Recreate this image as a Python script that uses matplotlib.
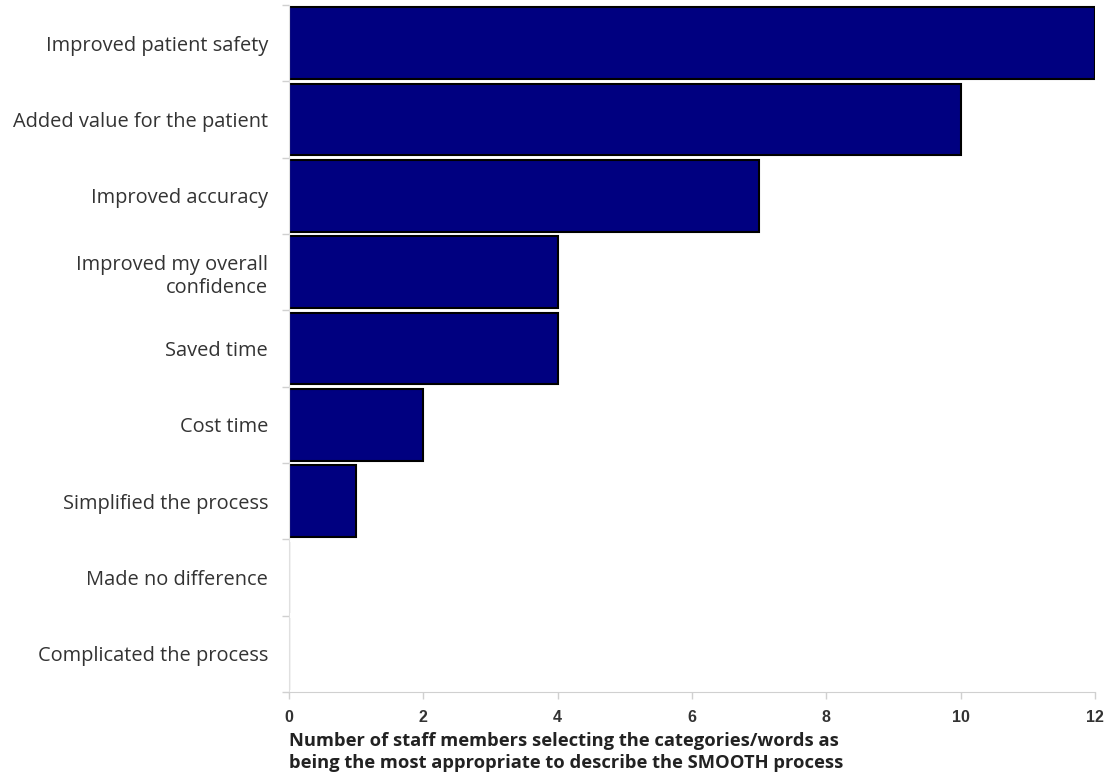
import matplotlib
matplotlib.use("Agg")
import numpy as np
import matplotlib.pyplot as plt

categories = ['Improved patient safety', 'Added value for the patient', 'Improved accuracy',
              'Improved my overall\nconfidence', 'Saved time', 'Cost time',
              'Simplified the process', 'Made no difference', 'Complicated the process']
counts = [12, 10, 7, 4, 4, 2, 1, 0, 0]
xticks = [0, 2, 4, 6, 8, 10, 12]

plt.rcParams['font.family'] = ['Open Sans', 'DejaVu Sans']

fig = plt.figure(figsize=(11.04, 7.83), dpi=100)
ax = fig.add_axes([0.2618, 0.1162, 0.9918 - 0.2618, 0.9936 - 0.1162])

y = np.arange(len(categories))
ax.barh(y, counts, height=0.94, color='#000080', edgecolor='black', linewidth=1.5)

ax.set_ylim(len(categories) - 0.5, -0.5)
ax.set_xlim(0, 12)

ax.set_yticks(y)
ax.set_yticklabels(categories, fontsize=14.4, color='#333333', ha='right', linespacing=1.25)
ax.tick_params(axis='y', length=0, pad=15)
ax.set_yticks(np.arange(-0.5, len(categories) - 0.4, 1), minor=True)
ax.tick_params(axis='y', which='minor', length=5, color='#d0d0d0', width=1)

ax.set_xticks(xticks)
ax.set_xticklabels([str(t) for t in xticks], fontsize=11.5, color='#333333',
                   fontweight='bold', family=['Liberation Sans', 'DejaVu Sans'])
ax.tick_params(axis='x', length=5, color='#d0d0d0', width=1, pad=8)

for s in ['top', 'right']:
    ax.spines[s].set_visible(False)
ax.spines['left'].set_color('#e0e0e0')
ax.spines['bottom'].set_color('#d0d0d0')

fig.text(289 / 1104, 1 - 752 / 783,
         'Number of staff members selecting the categories/words as\nbeing the most appropriate to describe the SMOOTH process',
         fontsize=13.2, fontweight='bold', color='#222222', ha='left', va='center',
         linespacing=1.3)

fig.savefig('out.png', dpi=100)
